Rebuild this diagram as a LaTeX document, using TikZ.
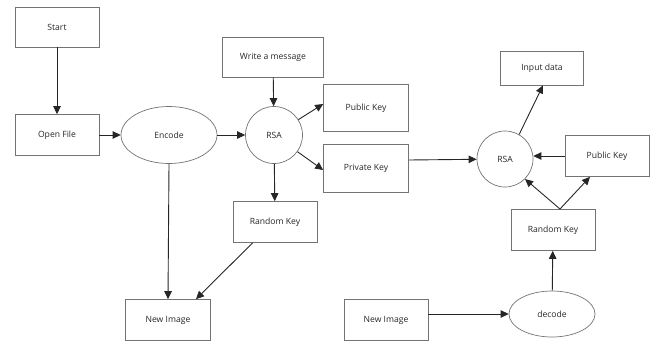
\documentclass[tikz,border=0pt]{standalone}
\usepackage{fontspec}
\setmainfont{Open Sans}
\usetikzlibrary{arrows.meta,shapes.geometric}
\begin{document}
\begin{tikzpicture}[x=1pt,y=-1pt,
  lbl/.style={font=\fontsize{8.6}{10}\selectfont,text=black!85},
  box/.style={lbl,draw=black!55,line width=0.7pt,rectangle,inner sep=0pt},
  oval/.style={lbl,draw=black!55,line width=0.7pt,ellipse,inner sep=0pt},
  circ/.style={lbl,draw=black!55,line width=0.7pt,circle,inner sep=0pt,minimum size=57pt},
  arr/.style={draw=black!85,line width=0.9pt,-{Triangle[length=8pt,width=7.5pt]}}]
\useasboundingbox (0,0) rectangle (657,343);
\node[box,minimum width=84pt,minimum height=40pt] (start) at (57,27) {Start};
\node[box,minimum width=84pt,minimum height=41pt] (open) at (57,135) {Open File};
\node[oval,minimum width=96pt,minimum height=57pt] (enc) at (169,135) {Encode};
\node[circ] (rsa1) at (274,135) {RSA};
\node[box,minimum width=101pt,minimum height=40pt] (write) at (273,57) {Write a message};
\node[box,minimum width=85pt,minimum height=47pt] (pub1) at (366,108) {Public Key};
\node[box,minimum width=85pt,minimum height=48pt] (priv) at (366,168) {Private Key};
\node[box,minimum width=84pt,minimum height=41pt] (rk1) at (275,222) {Random Key};
\node[box,minimum width=85pt,minimum height=41pt] (ni1) at (168,320) {New Image};
\node[box,minimum width=83pt,minimum height=34pt] (inp) at (542,68) {Input data};
\node[circ,minimum size=56pt] (rsa2) at (505,159) {RSA};
\node[box,minimum width=84pt,minimum height=41pt] (pub2) at (607,156) {Public Key};
\node[box,minimum width=84pt,minimum height=41pt] (rk2) at (553,230) {Random Key};
\node[box,minimum width=84pt,minimum height=41pt] (ni2) at (386,320) {New Image};
\node[oval,minimum width=86pt,minimum height=46pt] (dec) at (552,314) {decode};
\coordinate (rk2top) at (560,209);
\draw[arr] (start) -- (open);
\draw[arr] (open) -- (enc);
\draw[arr] (enc) -- (rsa1);
\draw[arr] (write) -- (rsa1);
\draw[arr] (rsa1) -- (pub1.west|-0,104);
\draw[arr] (rsa1) -- (priv.west|-0,170);
\draw[arr] (rsa1) -- (rk1);
\draw[arr] (enc.south) -- (ni1.north);
\draw[arr] (rk1.south west)++(20,0) -- ([xshift=28pt]ni1.north);
\draw[arr] (priv.east|-0,160) -- (rsa2);
\draw[arr] (rsa2.60) -- ([xshift=1pt]inp.south);
\draw[arr] (pub2.west|-0,156) -- (rsa2.east|-0,156);
\draw[arr] (rk2top) -- (rsa2.-45);
\draw[arr] (rk2top) -- ([xshift=-17pt]pub2.south);
\draw[arr] (dec) -- (rk2);
\draw[arr] (ni2.east|-dec) -- (dec);
\end{tikzpicture}
\end{document}
